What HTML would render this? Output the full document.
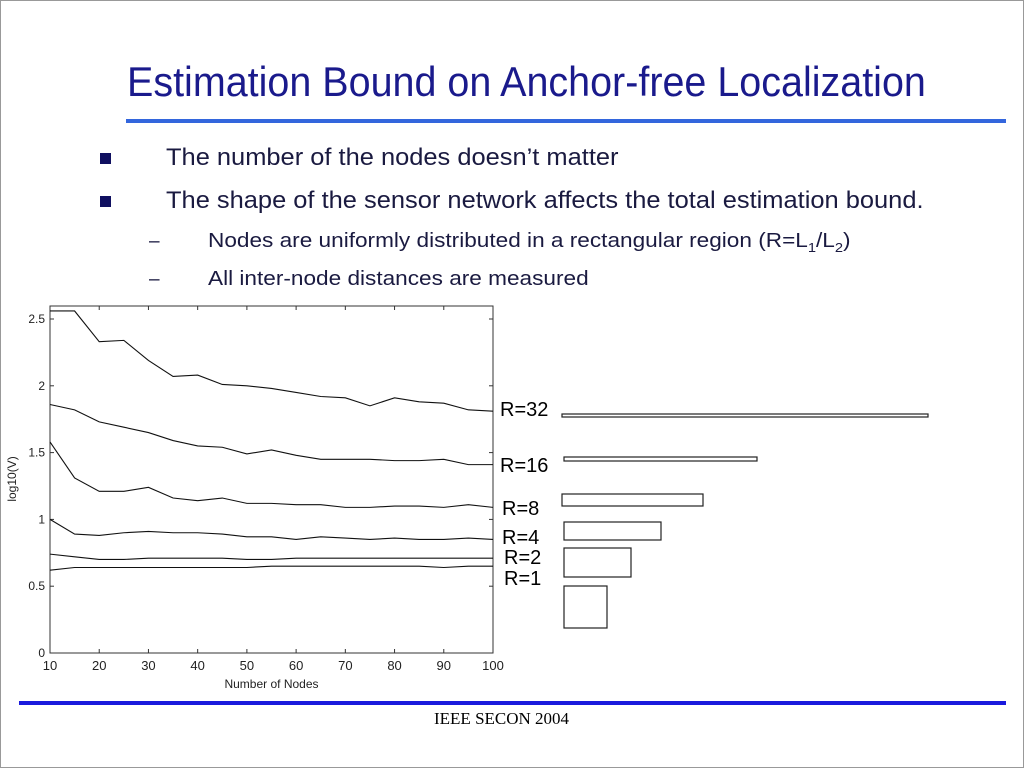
<!DOCTYPE html>
<html><head><meta charset="utf-8"><style>
body{margin:0;background:#fff;}
#slide{position:relative;width:1022px;height:766px;border:1px solid #999;overflow:hidden;font-family:"Liberation Sans",sans-serif;}
.t{position:absolute;white-space:nowrap;transform-origin:left;}
</style></head><body>
<div id="slide">
<div class="t" style="left:126px;top:57px;font-size:42px;color:#1a1a8c;transform:scaleX(0.94);">Estimation Bound on Anchor-free Localization</div>
<div style="position:absolute;left:125px;top:118px;width:880px;height:4px;background:#3366dd;"></div>
<div style="position:absolute;left:99px;top:152px;width:11px;height:11px;background:#101060;"></div>
<div class="t" style="left:165px;top:143px;font-size:24px;color:#1a1a40;transform:scaleX(1.06);">The number of the nodes doesn’t matter</div>
<div style="position:absolute;left:99px;top:195px;width:11px;height:11px;background:#101060;"></div>
<div class="t" style="left:165px;top:186px;font-size:24px;color:#1a1a40;transform:scaleX(1.06);">The shape of the sensor network affects the total estimation bound.</div>
<div class="t" style="left:148px;top:230px;font-size:19px;color:#1a1a40;">–</div>
<div class="t" style="left:207px;top:229px;font-size:20px;color:#1a1a40;transform:scaleX(1.13);">Nodes are uniformly distributed in a rectangular region (R=L<sub style="font-size:13px">1</sub>/L<sub style="font-size:13px">2</sub>)</div>
<div class="t" style="left:148px;top:268px;font-size:19px;color:#1a1a40;">–</div>
<div class="t" style="left:207px;top:267px;font-size:20px;color:#1a1a40;transform:scaleX(1.13);">All inter-node distances are measured</div>
<svg id="chart" style="position:absolute;left:0;top:0" width="1024" height="768" font-family="Liberation Sans, sans-serif"></svg>
<div style="position:absolute;left:18px;top:700px;width:987px;height:4px;background:#1a1add;"></div>
<div class="t" style="left:433px;top:708px;font-family:'Liberation Serif',serif;font-size:17px;color:#000;">IEEE SECON 2004</div>
</div>
<script>
const xs=[10,15,20,25,30,35,40,45,50,55,60,65,70,75,80,85,90,95,100];
const seriesNames=["R=32","R=16","R=8","R=4","R=2","R=1"];
const r32=[2.56,2.56,2.33,2.34,2.19,2.07,2.08,2.01,2.00,1.98,1.95,1.92,1.91,1.85,1.91,1.88,1.87,1.82,1.81];
const r16=[1.86,1.82,1.73,1.69,1.65,1.59,1.55,1.54,1.49,1.52,1.48,1.45,1.45,1.45,1.44,1.44,1.45,1.41,1.41];
const r8=[1.58,1.31,1.21,1.21,1.24,1.16,1.14,1.16,1.12,1.12,1.11,1.11,1.09,1.09,1.10,1.10,1.09,1.11,1.09];
const r4=[1.00,0.89,0.88,0.90,0.91,0.90,0.90,0.89,0.87,0.87,0.85,0.87,0.86,0.85,0.86,0.85,0.85,0.86,0.85];
const r2=[0.74,0.72,0.70,0.70,0.71,0.71,0.71,0.71,0.70,0.70,0.71,0.71,0.71,0.71,0.71,0.71,0.71,0.71,0.71];
const r1=[0.62,0.64,0.64,0.64,0.64,0.64,0.64,0.64,0.64,0.65,0.65,0.65,0.65,0.65,0.65,0.65,0.64,0.65,0.65];
const xTicks=[10,20,30,40,50,60,70,80,90,100];
const yTicks=[0,0.5,1,1.5,2,2.5];
const svg=document.getElementById('chart');
const NS='http://www.w3.org/2000/svg';
const X0=49,X1=492,Y0=652,YTOP=305;
const sx=v=>X0+(v-10)/90*(X1-X0);
const sy=v=>Y0-v*(652-318)/2.5;
function mk(t,a){const e=document.createElementNS(NS,t);for(const k in a)e.setAttribute(k,a[k]);svg.appendChild(e);return e;}
const box=mk('rect',{x:X0,y:YTOP,width:X1-X0,height:Y0-YTOP,fill:'#fff',stroke:'#333','stroke-width':1});


xTicks.forEach(v=>{
 mk('line',{x1:sx(v),x2:sx(v),y1:Y0,y2:Y0-4,stroke:'#333'});
 mk('line',{x1:sx(v),x2:sx(v),y1:YTOP,y2:YTOP+4,stroke:'#333'});
 const t=mk('text',{x:sx(v),y:Y0+17,'font-size':13,'text-anchor':'middle',fill:'#222'});t.textContent=v;
 
 
});
yTicks.forEach(v=>{
 mk('line',{x1:X0,x2:X0+4,y1:sy(v),y2:sy(v),stroke:'#333'});
 mk('line',{x1:X1,x2:X1-4,y1:sy(v),y2:sy(v),stroke:'#333'});
 const t=mk('text',{x:X0-5,y:sy(v)+4,'font-size':12,'text-anchor':'end',fill:'#222'});t.textContent=v;
 
 
});
const xt=mk('text',{x:(X0+X1)/2,y:687,'font-size':12,'text-anchor':'middle',fill:'#222'});xt.textContent='Number of Nodes';


const yt=mk('text',{x:0,y:0,'font-size':12,'text-anchor':'middle',fill:'#222',transform:'translate(15,478) rotate(-90)'});yt.textContent='log10(V)';


[r32,r16,r8,r4,r2,r1].forEach((s,i)=>{
 const p=mk('polyline',{points:s.map((v,j)=>sx(xs[j])+','+sy(v)).join(' '),fill:'none',stroke:'#111','stroke-width':1.1});
 
 
});
const labelY=[408,464,507,536,556,577];
const labelX=[499,499,501,501,503,503];
seriesNames.forEach((n,i)=>{
 const t=mk('text',{x:labelX[i],y:labelY[i]+7,'font-size':20,fill:'#000'});t.textContent=n;
 
 
});
const shapes=[[561,413,366,3],[563,456,193,4],[561,493,141,12],[563,521,97,18],[563,547,67,29],[563,585,43,42]];
shapes.forEach((r,i)=>{
 const e=mk('rect',{x:r[0],y:r[1],width:r[2],height:r[3],fill:'#fff',stroke:'#222','stroke-width':1.2});
 
 
});
</script>
</body></html>
